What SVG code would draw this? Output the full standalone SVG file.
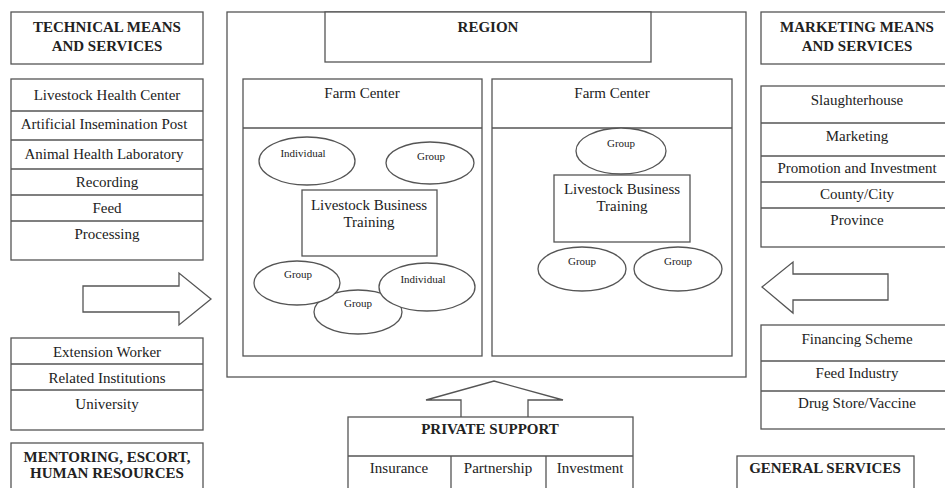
<svg xmlns="http://www.w3.org/2000/svg" width="945" height="488" viewBox="0 0 945 488">
<style>
  .b{fill:#fff;stroke:#555;stroke-width:1.3}
  .l{stroke:#555;stroke-width:1.3;fill:none}
  text{font-family:"Liberation Serif","Times New Roman",serif;fill:#222;text-anchor:middle}
  .h{font-size:15px;font-weight:bold}
  .t{font-size:15px}
  .s{font-size:11px}
</style>
<rect width="945" height="488" fill="#fff"/>

<g id="technical-header">
  <rect class="b" x="11" y="12" width="192" height="52"/>
  <text class="h" x="107" y="32">TECHNICAL MEANS</text>
  <text class="h" x="107" y="51">AND SERVICES</text>
</g>
<g id="technical-list">
  <rect class="b" x="11" y="79" width="192" height="181"/>
  <path class="l" d="M11 111H203M11 140H203M11 169H203M11 195H203M11 221H203"/>
  <text class="t" x="107" y="100">Livestock Health Center</text>
  <text class="t" x="104" y="129">Artificial Insemination Post</text>
  <text class="t" x="104" y="159">Animal Health Laboratory</text>
  <text class="t" x="107" y="187">Recording</text>
  <text class="t" x="107" y="213">Feed</text>
  <text class="t" x="107" y="239">Processing</text>
</g>
<g id="mentoring-list">
  <rect class="b" x="11" y="338" width="192" height="92"/>
  <path class="l" d="M11 364H203M11 390H203"/>
  <text class="t" x="107" y="357">Extension Worker</text>
  <text class="t" x="107" y="383">Related Institutions</text>
  <text class="t" x="107" y="409">University</text>
</g>
<g id="mentoring-header">
  <rect class="b" x="11" y="443" width="192" height="55"/>
  <text class="h" x="107" y="462">MENTORING, ESCORT,</text>
  <text class="h" x="107" y="478">HUMAN RESOURCES</text>
</g>

<g id="region">
  <rect class="b" x="227" y="12" width="519" height="365"/>
  <rect class="b" x="325" y="12" width="326" height="50"/>
  <text class="h" x="488" y="32">REGION</text>
</g>

<g id="farm-center-1">
  <rect class="b" x="243" y="79" width="239" height="277"/>
  <path class="l" d="M243 128H482"/>
  <text class="t" x="362" y="98">Farm Center</text>
  <g id="fc1-individual-top">
    <ellipse class="b" cx="307" cy="161" rx="48" ry="24"/>
    <text class="s" x="303" y="157">Individual</text>
  </g>
  <g id="fc1-group-top">
    <ellipse class="b" cx="430" cy="163" rx="44" ry="21"/>
    <text class="s" x="431" y="160">Group</text>
  </g>
  <g id="fc1-training">
    <rect class="b" x="302" y="190" width="135" height="66"/>
    <text class="t" x="369" y="210">Livestock Business</text>
    <text class="t" x="369" y="227">Training</text>
  </g>
  <g id="fc1-group-bottom">
    <ellipse class="b" cx="358" cy="312" rx="44" ry="22"/>
    <text class="s" x="358" y="307">Group</text>
  </g>
  <g id="fc1-group-left">
    <ellipse class="b" cx="297" cy="283" rx="43" ry="22"/>
    <text class="s" x="298" y="278">Group</text>
  </g>
  <g id="fc1-individual-right">
    <ellipse class="b" cx="427" cy="287" rx="48" ry="24"/>
    <text class="s" x="423" y="283">Individual</text>
  </g>
</g>

<g id="farm-center-2">
  <rect class="b" x="492" y="79" width="240" height="277"/>
  <path class="l" d="M492 128H732"/>
  <text class="t" x="612" y="98">Farm Center</text>
  <g id="fc2-group-top">
    <ellipse class="b" cx="621" cy="151" rx="45" ry="23"/>
    <text class="s" x="621" y="147">Group</text>
  </g>
  <g id="fc2-training">
    <rect class="b" x="554" y="175" width="136" height="67"/>
    <text class="t" x="622" y="194">Livestock Business</text>
    <text class="t" x="622" y="211">Training</text>
  </g>
  <g id="fc2-group-left">
    <ellipse class="b" cx="582" cy="269" rx="44" ry="22"/>
    <text class="s" x="582" y="265">Group</text>
  </g>
  <g id="fc2-group-right">
    <ellipse class="b" cx="678" cy="269" rx="44" ry="22"/>
    <text class="s" x="678" y="265">Group</text>
  </g>
</g>

<g id="private-support">
  <rect class="b" x="348" y="417" width="285" height="80"/>
  <path class="l" d="M348 456H633M451 456V497M546 456V497"/>
  <text class="h" x="490" y="434">PRIVATE SUPPORT</text>
  <text class="t" x="399" y="473">Insurance</text>
  <text class="t" x="498" y="473">Partnership</text>
  <text class="t" x="590" y="473">Investment</text>
</g>

<g id="marketing-header">
  <rect class="b" x="761" y="12" width="192" height="52"/>
  <text class="h" x="857" y="32">MARKETING MEANS</text>
  <text class="h" x="857" y="51">AND SERVICES</text>
</g>
<g id="marketing-list">
  <rect class="b" x="761" y="86" width="192" height="161"/>
  <path class="l" d="M761 123H953M761 156H953M761 182H953M761 208H953"/>
  <text class="t" x="857" y="105">Slaughterhouse</text>
  <text class="t" x="857" y="141">Marketing</text>
  <text class="t" x="857" y="173">Promotion and Investment</text>
  <text class="t" x="857" y="199">County/City</text>
  <text class="t" x="857" y="225">Province</text>
</g>
<g id="general-list">
  <rect class="b" x="761" y="325" width="192" height="104"/>
  <path class="l" d="M761 361H953M761 391H953"/>
  <text class="t" x="857" y="344">Financing Scheme</text>
  <text class="t" x="857" y="378">Feed Industry</text>
  <text class="t" x="857" y="408">Drug Store/Vaccine</text>
</g>
<g id="general-header">
  <rect class="b" x="737" y="456" width="177" height="42"/>
  <text class="h" x="825" y="473">GENERAL SERVICES</text>
</g>

<g id="connectors">
  <polygon class="b" points="83,286 179,286 179,273 211,299 179,325 179,312 83,312"/>
  <polygon class="b" points="888,274 793,274 793,262 762,287 793,313 793,300 888,300"/>
  <polyline class="l" points="461,417 461,400 426,400 494,381 563,400 528,400 528,417"/>
</g>
</svg>
